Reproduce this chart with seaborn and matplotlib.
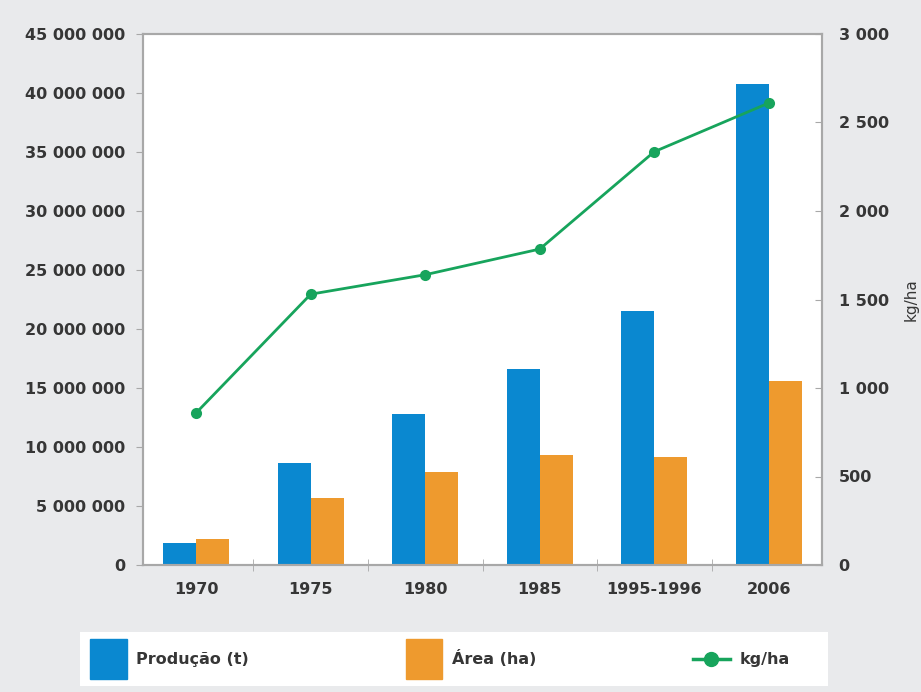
import numpy as np
import pandas as pd
import matplotlib
matplotlib.use('Agg')
import matplotlib.pyplot as plt
import seaborn as sns
from matplotlib.lines import Line2D
from matplotlib.patches import Patch, Rectangle
from matplotlib.legend_handler import HandlerLine2D
from matplotlib.ticker import FuncFormatter, MultipleLocator

# values
years = ['1970', '1975', '1980', '1985', '1995-1996', '2006']
producao = [1.86e6, 8.65e6, 12.8e6, 16.6e6, 21.5e6, 40.75e6]
area = [2.2e6, 5.65e6, 7.85e6, 9.3e6, 9.15e6, 15.6e6]
kg_ha = [860, 1530, 1640, 1785, 2335, 2610]

blue = '#0a88d0'
orange = '#ee9a2e'
green = '#17a45c'
grey_bg = '#e9eaec'
spine_col = '#a8a8a8'
text_col = '#363636'


class CenteredLine(HandlerLine2D):
    # put the legend line in the middle of the (tall) handle box
    def create_artists(self, legend, orig_handle, xdescent, ydescent,
                       width, height, fontsize, trans):
        arts = super().create_artists(legend, orig_handle, xdescent, ydescent,
                                      width, height, fontsize, trans)
        for a in arts:
            a.set_ydata(np.full(len(a.get_xdata()), height / 2 - ydescent))
        return arts


df = pd.DataFrame({
    'ano': years * 2,
    'valor': producao + area,
    'serie': ['Produção (t)'] * len(years) + ['Área (ha)'] * len(years),
})

plt.rcParams['font.family'] = ['DejaVu Sans']
plt.rcParams['text.color'] = text_col

fig = plt.figure(figsize=(9.21, 6.92), dpi=100, facecolor=grey_bg)
ax = fig.add_axes([143 / 921, 127 / 692, 679 / 921, 531 / 692])
ax.set_facecolor('white')

sns.barplot(data=df, x='ano', y='valor', hue='serie', palette=[blue, orange],
            width=0.58, saturation=1, linewidth=0, ax=ax, legend=False)

ax2 = ax.twinx()
sns.pointplot(x=years, y=kg_ha, ax=ax2, color=green, markersize=6.5, linewidth=2)

ax.set_xlim(-0.465, 5.465)
ax.set_ylim(0, 45e6)
ax2.set_ylim(0, 3000)

# axis formatting
space_fmt = FuncFormatter(lambda v, p: f'{v:,.0f}'.replace(',', ' '))
ax.yaxis.set_major_locator(MultipleLocator(5e6))
ax.yaxis.set_major_formatter(space_fmt)
ax2.yaxis.set_major_locator(MultipleLocator(500))
ax2.yaxis.set_major_formatter(space_fmt)

ax.tick_params(axis='y', direction='out', length=5, color=spine_col, pad=8,
               labelsize=11.5, labelcolor=text_col)
ax.tick_params(axis='x', which='major', length=0, pad=12, labelsize=11.5, labelcolor=text_col)
ax.set_xticks([0.5, 1.5, 2.5, 3.5, 4.5], minor=True)
ax.tick_params(axis='x', which='minor', direction='inout', length=8, color=spine_col)
ax2.tick_params(axis='y', direction='in', length=5, color=spine_col, pad=12,
                labelsize=11.5, labelcolor=text_col)
for lbl in ax.get_xticklabels() + ax.get_yticklabels() + ax2.get_yticklabels():
    lbl.set_fontweight('bold')

ax.set_xlabel('')
ax.set_ylabel('')
ax2.set_xlabel('')
ax2.set_ylabel('kg/ha', fontsize=11, color=text_col, labelpad=11)

for a in (ax, ax2):
    for s in a.spines.values():
        s.set_color(spine_col)
        s.set_linewidth(1.5)

# white legend box at the bottom
fig.patches.append(Rectangle((80 / 921, 6 / 692), 748 / 921, 54 / 692,
                             transform=fig.transFigure, facecolor='white',
                             edgecolor='none', zorder=0))

line_handle = Line2D([], [], color=green, marker='o', lw=2.5, ms=10)
handles = [Patch(color=blue), Patch(color=orange), line_handle]
labels = ['Produção (t)', 'Área (ha)', 'kg/ha']
leg = fig.legend(handles, labels, loc='center left', ncol=3,
                 bbox_to_anchor=(90 / 921, 33 / 692),
                 frameon=False, handlelength=2.3, handleheight=3.4,
                 fontsize=11.5, borderpad=0, borderaxespad=0,
                 handletextpad=0.6, columnspacing=9.8,
                 handler_map={line_handle: CenteredLine()})
for t in leg.get_texts():
    t.set_fontweight('bold')

fig.savefig('out.png', dpi=100, facecolor=grey_bg)
